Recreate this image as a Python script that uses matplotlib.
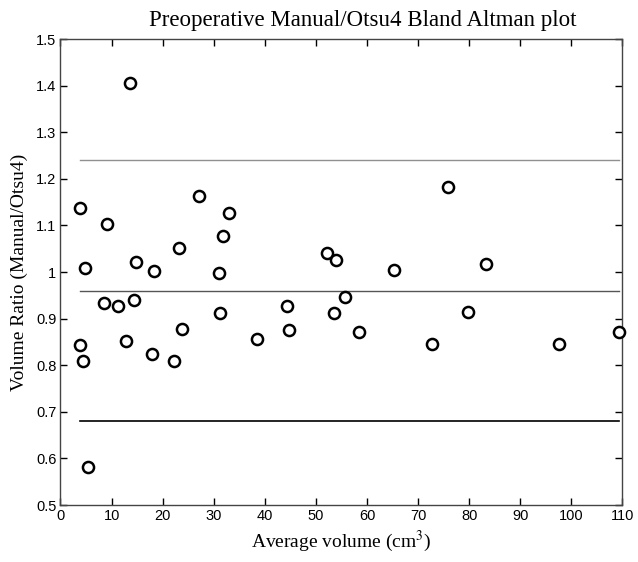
import matplotlib
matplotlib.use("Agg")
import matplotlib.pyplot as plt
import numpy as np

plt.rcParams["mathtext.fontset"] = "stix"

avg_volume = [13.6, 3.9, 9.1, 27.1, 33.0, 31.9, 23.1, 4.8, 14.7, 18.3, 31.0,
              8.6, 11.3, 14.4, 31.2, 23.8, 3.8, 4.45, 12.9, 17.9, 22.2, 38.4,
              5.4, 75.8, 52.2, 53.9, 65.3, 55.6, 44.3, 53.5, 44.7, 58.4, 72.7,
              83.2, 79.7, 97.6, 109.3]
ratio = [1.406, 1.137, 1.104, 1.164, 1.126, 1.078, 1.051, 1.008, 1.021, 1.003, 0.997,
         0.933, 0.927, 0.940, 0.911, 0.878, 0.843, 0.808, 0.852, 0.824, 0.810, 0.856,
         0.582, 1.183, 1.041, 1.026, 1.004, 0.947, 0.928, 0.913, 0.876, 0.872, 0.845,
         1.017, 0.915, 0.845, 0.871]
mean_ratio = 0.959
upper_loa = 1.240
lower_loa = 0.681

xticks = list(range(0, 111, 10))
yticks = [0.5, 0.6, 0.7, 0.8, 0.9, 1.0, 1.1, 1.2, 1.3, 1.4, 1.5]
ytick_labels = ["0.5", "0.6", "0.7", "0.8", "0.9", "1", "1.1", "1.2", "1.3", "1.4", "1.5"]

fig = plt.figure(figsize=(6.38, 5.62), dpi=100)
ax = fig.add_axes([0.0948, 0.1014, 0.8809, 0.8292])

xmin, xmax = min(avg_volume), max(avg_volume)
ax.plot([xmin, xmax], [upper_loa, upper_loa], color="#909090", lw=1.0)
ax.plot([xmin, xmax], [mean_ratio, mean_ratio], color="#555555", lw=1.0)
ax.plot([xmin, xmax], [lower_loa, lower_loa], color="black", lw=1.2)
ax.plot(avg_volume, ratio, linestyle="none", marker="o", ms=8, mfc="white",
        mec="black", mew=1.8, clip_on=False, zorder=3)

ax.set_xlim(0, 110)
ax.set_ylim(0.5, 1.5)
ax.set_xticks(xticks)
ax.set_yticks(yticks)
ax.set_yticklabels(ytick_labels)
ax.tick_params(direction="in", top=True, right=True, length=5, width=1,
               labelsize=10.5, pad=3)
for lab in ax.get_xticklabels() + ax.get_yticklabels():
    lab.set_family("Liberation Sans")
for s in ax.spines.values():
    s.set_color("#444444")
    s.set_linewidth(1.0)

serif = "Liberation Serif"
fig.text(363 / 638, 1 - 26 / 562, "Preoperative Manual/Otsu4 Bland Altman plot",
         fontfamily=serif, fontsize=16.5, ha="center", va="baseline")
ax.set_xlabel("Average volume (cm$^3$)", fontfamily=serif, fontsize=14, labelpad=4)
ax.set_ylabel("Volume Ratio (Manual/Otsu4)", fontfamily=serif, fontsize=14, labelpad=6)

fig.savefig("out.png", dpi=100)
